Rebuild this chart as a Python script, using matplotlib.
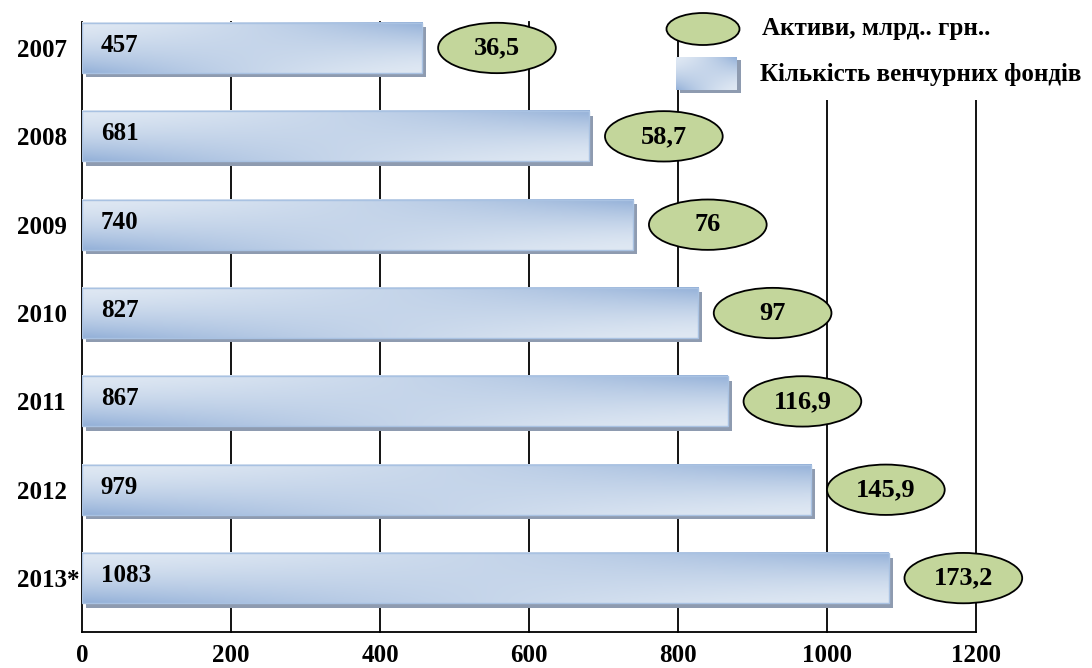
import numpy as np
import matplotlib
matplotlib.use("Agg")
import matplotlib.pyplot as plt
from matplotlib.patches import Ellipse, Rectangle
from matplotlib.colors import to_rgb

plt.rcParams["font.family"] = ["Liberation Serif", "DejaVu Serif"]
plt.rcParams["font.weight"] = "bold"

# Venture funds in Ukraine by year
years = ["2007", "2008", "2009", "2010", "2011", "2012", "2013*"]
fund_counts = [457, 681, 740, 827, 867, 979, 1083]
assets_labels = ["36,5", "58,7", "76", "97", "116,9", "145,9", "173,2"]
x_ticks = [0, 200, 400, 600, 800, 1000, 1200]
legend_assets = "Активи, млрд.. грн.."
legend_funds = "Кількість венчурних фондів"

W, H = 1092, 668
fig = plt.figure(figsize=(W / 100, H / 100), dpi=100)
ax = fig.add_axes([82 / W, (H - 632) / H, (976 - 82) / W, (632 - 22) / H])

ax.set_xlim(0, 1200)
ax.set_ylim(6.61, -0.294)

light = np.array(to_rgb("#dfe8f3"))
dark = np.array(to_rgb("#93b0d8"))


def gradient_image(nx=200, ny=60):
    xf = np.linspace(0, 1, nx)[None, :]
    yf = np.linspace(0, 1, ny)[:, None]  # 0 at top, 1 at bottom
    u = yf * (1 - xf) + (1 - yf) * xf
    u = np.clip(u, 0, 1) ** 1.6
    img = light[None, None, :] * (1 - u[..., None]) + dark[None, None, :] * u[..., None]
    return img


grad = gradient_image()
bar_h = 0.566
shadow_dx = 5.0   # data units
shadow_dy = 0.05

for i, v in enumerate(fund_counts):
    # drop shadow
    ax.add_patch(Rectangle((shadow_dx, i - bar_h / 2 + shadow_dy), v, bar_h,
                           facecolor="#8e9bb0", edgecolor="none", zorder=3))
    # gradient bar
    ax.imshow(grad, extent=(0, v, i + bar_h / 2, i - bar_h / 2), aspect="auto",
              interpolation="bilinear", zorder=4)
    ax.add_patch(Rectangle((0, i - bar_h / 2), v, bar_h, facecolor="none",
                           edgecolor="#a9c2e2", lw=1.0, zorder=5))
    ax.text(25, i - 0.03, str(v), ha="left", va="center", fontsize=18,
            fontweight="bold", zorder=6)
    # assets ellipse
    cx = v + 100
    ax.add_patch(Ellipse((cx, i), width=158, height=0.57, facecolor="#c3d69b",
                         edgecolor="black", lw=1.3, zorder=6, clip_on=False))
    ax.text(cx, i, assets_labels[i], ha="center", va="center", fontsize=19,
            fontweight="bold", zorder=7, clip_on=False)

ax.set_xticks(x_ticks)
ax.set_xticklabels([str(t) for t in x_ticks], fontsize=18, fontweight="bold")
ax.set_yticks(range(len(years)))
ax.set_yticklabels(years, fontsize=18, fontweight="bold", ha="left")
ax.tick_params(axis="y", length=0, pad=46.8)
ax.tick_params(axis="x", length=0, pad=9)

for t in x_ticks[1:]:
    ax.axvline(t, color="black", lw=1.3, zorder=1, clip_on=False)

for side in ["top", "right"]:
    ax.spines[side].set_visible(False)
ax.spines["left"].set_linewidth(1.3)
ax.spines["bottom"].set_linewidth(1.3)
ax.spines["left"].set_zorder(2)

# legend area (figure pixel coordinates)
fx = lambda px: px / W
fy = lambda py: (H - py) / H
fig.patches.append(Rectangle((fx(745), fy(100)), fx(W) - fx(745), fy(0) - fy(100),
                             transform=fig.transFigure, facecolor="white",
                             edgecolor="none", zorder=3))
fig.patches.append(Ellipse((fx(703), fy(29)), width=73 / W, height=32 / H,
                           transform=fig.transFigure, facecolor="#c3d69b",
                           edgecolor="black", lw=1.3, zorder=4))
fig.patches.append(Rectangle((fx(680), fy(93)), 61 / W, 33 / H,
                             transform=fig.transFigure, facecolor="#8e9bb0",
                             edgecolor="none", zorder=4))
lax = fig.add_axes([fx(676), fy(90), 61 / W, 33 / H], zorder=5)
lax.imshow(grad, aspect="auto", interpolation="bilinear")
lax.set_axis_off()
fig.text(fx(762), fy(28), legend_assets, ha="left", va="center", fontsize=18,
         fontweight="bold", zorder=6)
fig.text(fx(760), fy(74), legend_funds, ha="left", va="center", fontsize=18,
         fontweight="bold", zorder=6)

fig.savefig("out.png", dpi=100, facecolor="white")
